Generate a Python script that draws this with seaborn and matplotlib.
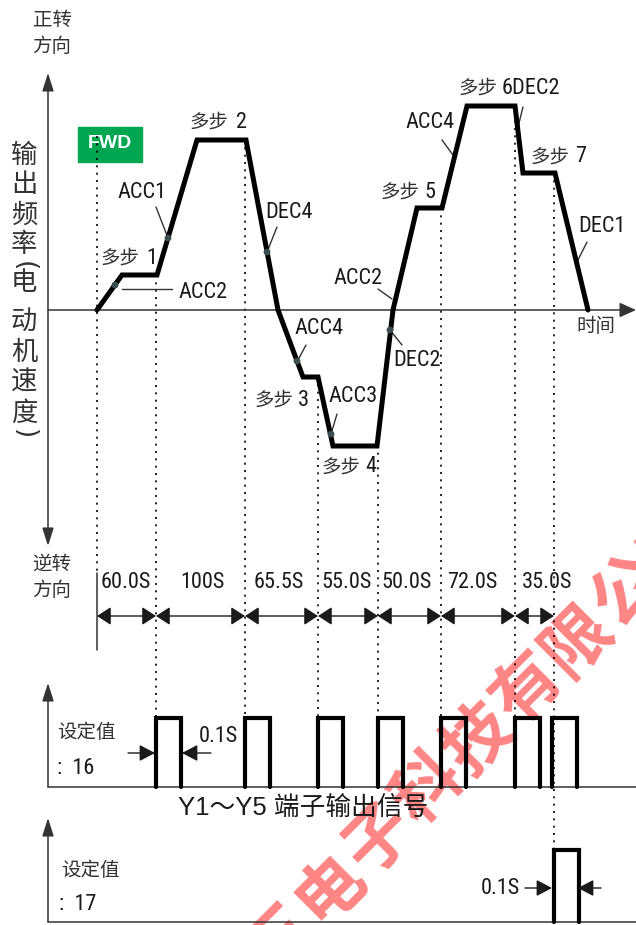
import numpy as np
import pandas as pd
import matplotlib
matplotlib.use("Agg")
import matplotlib.pyplot as plt
from matplotlib import font_manager as fm
from matplotlib.patches import Rectangle
import seaborn as sns

# ---------------------------------------------------------------------------
# data (diagram units: time runs left->right, frequency measured from the zero line)
# ---------------------------------------------------------------------------
seg_t = [97, 156, 245, 318, 378, 441, 515, 554]          # step boundaries
seg_time = ["60.0S", "100S", "65.5S", "55.0S", "50.0S", "72.0S", "35.0S"]

wave_t = [97, 122, 157, 197, 246, 278, 303, 318, 333, 377,
          393, 417, 442, 467, 515, 523, 555, 588]
wave_f = [0, 35, 35, 170, 170, 0, -67, -67, -136, -136,
          0, 102, 102, 204, 204, 137, 137, 0]

pulse16_t = [156, 245, 318, 378, 441, 515, 552]          # setting 16: each step end
pulse17_t = [554]                                         # setting 17: program end
pulse_w = 25                                              # 0.1 s pulse

watermark = "三电子科技有限公司"

# ---------------------------------------------------------------------------
# layout
# ---------------------------------------------------------------------------
W, H = 636, 925
AXIS_X, ZERO_Y = 48, 310
P1_BASE, P1_TOP = 787, 718
P2_BASE, P2_TOP = 922, 850
DIM_Y = 616

sns.set_theme(style="white")

# narrow latin face (Arial Narrow look-alike)
names = {f.name for f in fm.fontManager.ttflist}
LATIN, LSIZE = ("Roboto Condensed", 16) if "Roboto Condensed" in names else ("Liberation Sans", 14)
CJK = "Noto Sans CJK SC"
plt.rcParams["font.family"] = [LATIN, CJK, "DejaVu Sans"]

INK = "#1a1a1a"
GREY = "#333333"

fig = plt.figure(figsize=(W / 100, H / 100), dpi=100)
ax = fig.add_axes([0, 0, 1, 1])
ax.set_xlim(0, W)
ax.set_ylim(H, 0)
ax.axis("off")


def arrow(x0, y0, x1, y1, style="-|>", hl=1.0, hw=0.35, lw=1.1, color=GREY):
    ax.annotate("", xy=(x1, y1), xytext=(x0, y0),
                arrowprops=dict(arrowstyle=f"{style},head_length={hl},head_width={hw}",
                                lw=lw, color=color, mutation_scale=10,
                                shrinkA=0, shrinkB=0))


def cjk(x, y, s, size=14, **kw):
    ax.text(x, y, s, family=[CJK], fontsize=size, color=GREY, va="center", **kw)


def lat(x, y, s, size=None, **kw):
    ax.text(x, y, s, family=[LATIN, CJK], fontsize=size or LSIZE,
            color=INK, va="center", **kw)


# watermark, under everything
ang = np.pi / 4
wm_x0, wm_y0, wm_step = 330 - 70 * np.cos(ang), 888 + 70 * np.sin(ang), 70
for i, ch in enumerate(watermark):
    ax.text(wm_x0 + i * wm_step * np.cos(ang), wm_y0 - i * wm_step * np.sin(ang),
            ch, family=[CJK], fontsize=49, weight="bold", color="#FF8585",
            rotation=45, ha="center", va="center", rotation_mode="anchor", zorder=0)

# ---------------------------------------------------------------------------
# main frequency diagram
# ---------------------------------------------------------------------------
arrow(AXIS_X, 546, AXIS_X, 73, style="<|-|>", hl=1.1, hw=0.35)
arrow(AXIS_X, ZERO_Y, W, ZERO_Y, hl=1.0, hw=0.45)

wave = pd.DataFrame({"t": wave_t, "y": [ZERO_Y - f for f in wave_f]})

# dotted guides at every step boundary
guide_top = np.interp(seg_t, wave["t"], wave["y"])
guide_top[0] = 136
guide_bot = [573] + [P1_TOP] * 6 + [P2_TOP]
ax.vlines(seg_t, guide_top, guide_bot, colors="black", lw=1.2,
          linestyles=[(0, (1.2, 3.2))], zorder=1)

# FWD box
ax.add_patch(Rectangle((78, 127), 64, 35, color="#00A651", zorder=0.8))
ax.text(110, 144, "FWD", family=["Liberation Sans"], fontsize=14, weight="bold",
        color="white", ha="center", va="center", zorder=0.9)

sns.lineplot(data=wave, x="t", y="y", sort=False, estimator=None, ax=ax,
             color="black", lw=3.6, solid_joinstyle="miter", solid_capstyle="round",
             zorder=3)

# callouts: text, position, leader line, dot
callouts = [
    ("ACC2", 178, 292, (122, 289, 172, 289), (115, 285)),
    ("ACC1", 117, 193, (156, 207, 168, 238), (168, 238)),
    ("DEC4", 265, 212, (277, 227, 267, 252), (267, 252)),
    ("ACC2", 333, 278, (378, 289, 392, 299), None),
    ("ACC4", 294, 328, (306, 345, 298, 360), (297, 361)),
    ("DEC2", 393, 360, (402, 345, 390, 330), (390, 330)),
    ("ACC3", 328, 397, (337, 414, 331, 434), (331, 434)),
    ("ACC4", 405, 122, (442, 140, 453, 155), None),
    ("DEC1", 578, 227, (587, 242, 577, 262), None),
    ("", 0, 0, (523, 107, 518, 127), None),
]
dots = []
for txt, tx, ty, ld, dot in callouts:
    if txt:
        lat(tx, ty, txt, ha="left")
    ax.plot([ld[0], ld[2]], [ld[1], ld[3]], color=GREY, lw=1.0, zorder=2)
    if dot:
        dots.append(dot)
sns.scatterplot(x=[d[0] for d in dots], y=[d[1] for d in dots], ax=ax,
                color="#3b4d4d", s=24, edgecolor="none", zorder=4)

# multi-step labels: 多步 right edge, number, y
steps = [(140, "1", 146, 258), (229, "2", 236, 122), (294, "3", 298, 400),
         (361, "4", 365, 467), (420, "5", 424, 192), (498, "6DEC2", 502, 88),
         (570, "7", 575, 157)]
for rx, num, nx, y in steps:
    cjk(rx, y, "多步", size=14, ha="right")
    lat(nx, y, num, ha="left")

# axis captions
cjk(52, 20, "正转", size=14, ha="center")
cjk(52, 47, "方向", size=14, ha="center")
cjk(52, 564, "逆转", size=14, ha="center")
cjk(52, 590, "方向", size=14, ha="center")
cjk(596, 327, "时间", size=14, ha="center")

# vertical caption 输出频率(电动机速度)
ylab = [("输", 155), ("出", 185), ("频", 215), ("率", 244), ("电", 283),
        ("动", 322), ("机", 352), ("速", 382), ("度", 413)]
for ch, y in ylab:
    cjk(24, y, ch, size=19, ha="center")
for ch, y in [("(", 266), (")", 434)]:
    ax.text(24, y, ch, family=["DejaVu Sans"], fontsize=19, color=GREY,
            rotation=-90, ha="center", va="center")

# ---------------------------------------------------------------------------
# step durations
# ---------------------------------------------------------------------------
ax.plot([seg_t[0], seg_t[0]], [573, 650], color=GREY, lw=1.1)
for a, b in zip(seg_t[:-1], seg_t[1:]):
    arrow(a, DIM_Y, b, DIM_Y, style="<|-|>", hl=0.85, hw=0.55, lw=1.0, color=INK)
label_x = [126, 203, 279, 347, 407, 472, 547]
for x, s in zip(label_x, seg_time):
    lat(x, 582, s, ha="center")

# ---------------------------------------------------------------------------
# output pulse panels
# ---------------------------------------------------------------------------
def pulse_frame(starts, base, top):
    rows = []
    for k, t0 in enumerate(starts):
        for t, y in [(t0, base), (t0, top), (t0 + pulse_w, top), (t0 + pulse_w, base)]:
            rows.append({"k": k, "t": t, "y": y})
    return pd.DataFrame(rows)


for base, top, starts in [(P1_BASE, P1_TOP, pulse16_t), (P2_BASE, P2_TOP, pulse17_t)]:
    arrow(AXIS_X, base, AXIS_X, base - 104, hl=1.1, hw=0.35)
    ax.plot([AXIS_X, W], [base, base], color=GREY, lw=1.1)
    sns.lineplot(data=pulse_frame(starts, base, top), x="t", y="y", units="k",
                 estimator=None, sort=False, ax=ax, color="black", lw=3.0,
                 solid_joinstyle="miter", solid_capstyle="round", zorder=3)

cjk(57, 733, "设定值", size=14, ha="left")
lat(57, 768, ":  16", ha="left")
lat(199, 736, "0.1S", ha="left")
arrow(128, 753, 155, 753, hl=0.95, hw=0.5, lw=1.0, color=INK)
arrow(211, 753, 182, 753, hl=0.95, hw=0.5, lw=1.0, color=INK)
ax.text(178, 808, "Y1～Y5 端子输出信号", family=["Liberation Sans", CJK],
        fontsize=18.5, color=INK, ha="left", va="center")

cjk(61, 870, "设定值", size=14, ha="left")
lat(59, 904, ":  17", ha="left")
lat(481, 888, "0.1S", ha="left")
arrow(525, 888, 552, 888, hl=0.95, hw=0.5, lw=1.0, color=INK)
arrow(601, 888, 578, 888, hl=0.95, hw=0.5, lw=1.0, color=INK)

fig.savefig("out.png", dpi=100)
